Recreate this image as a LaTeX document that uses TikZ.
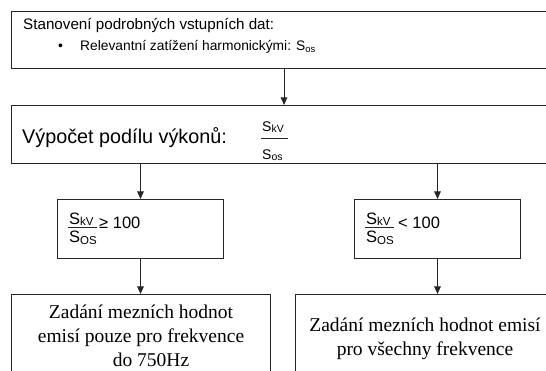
\documentclass[tikz,border=0pt]{standalone}
\usepackage{fontspec}
\setmainfont{Liberation Sans}
\newfontfamily\timesfont{Liberation Serif}
\usetikzlibrary{arrows.meta}
\newcommand\fs[1]{\fontsize{#1}{#1}\selectfont}
% symbol with a lowered subscript: \symsub{main size}{sub size}{drop}{subscript}
\newcommand\symsub[4]{{\fs{#1}S\raisebox{-#3}{\fs{#2}#4}}}

\begin{document}
\begin{tikzpicture}[x=1pt,y=-1pt,
  box/.style={draw=black!85, line width=1pt, inner sep=0pt, anchor=north west},
  arr/.style={draw=black!85, line width=1pt, -{Triangle[width=6.5pt,length=7.5pt]}},
  bar/.style={draw=black!85, line width=0.8pt},
  txt/.style={inner sep=0pt, anchor=base west},
  ctxt/.style={inner sep=0pt, anchor=base, font=\timesfont\fs{19.5}}]
\useasboundingbox (0,0) rectangle (546,371);
\clip (0,0) rectangle (546,371);

% boxes
\node[box, minimum width=545pt, minimum height=57pt] (b1) at (11,11) {};
\node[box, minimum width=545pt, minimum height=58pt] (b2) at (11,105) {};
\node[box, minimum width=166pt, minimum height=59pt] (b3l) at (57,199) {};
\node[box, minimum width=166pt, minimum height=59pt] (b3r) at (354,199) {};
\node[box, minimum width=259pt, minimum height=90pt] (b4l) at (11,294) {};
\node[box, minimum width=284pt, minimum height=90pt] (b4r) at (295,294) {};

% connectors
\draw[arr] (b1.south) -- (b2.north);
\draw[arr] (b2.south -| b3l.north) -- (b3l.north);
\draw[arr] (b2.south -| b3r.north) -- (b3r.north);
\draw[arr] (b3l.south) -- (b3l.south |- b4l.north);
\draw[arr] (b3r.south) -- (b3r.south |- b4r.north);

% input data
\node[txt, font=\fs{15.2}] (t1) at (23,30) {Stanovení podrobných vstupních dat:};
\node[txt, font=\fs{14}] (bul) at (58,51) {•};
\node[txt, font=\fs{13.8}] (t2) at (80,51) {Relevantní zatížení harmonickými: S\raisebox{-2pt}{\fs{9.5}os}};

% power ratio
\node[txt, font=\fs{19.8}] (t3) at (22,144) {Výpočet podílu výkonů:};
\node[txt] (n1) at (262,132) {\symsub{14}{10.5}{0.5pt}{kV}};
\draw[bar] (261,138) -- (288,138);
\node[txt] (d1) at (262,160) {\symsub{14}{10.5}{1pt}{os}};

% left condition
\node[txt] (n2) at (69,225) {\symsub{16.5}{11.5}{0.5pt}{kV}};
\draw[bar] (68,227.5) -- (97,227.5);
\node[txt] (d2) at (69,243) {\symsub{16.5}{11.5}{2pt}{OS}};
\node[txt, font=\fs{16.5}] (c2) at (99,229) {≥ 100};

% right condition
\node[txt] (n3) at (366,225) {\symsub{16.5}{11.5}{0.5pt}{kV}};
\draw[bar] (365,227.5) -- (394,227.5);
\node[txt] (d3) at (366,243) {\symsub{16.5}{11.5}{2pt}{OS}};
\node[txt, font=\fs{16.5}] (c3) at (398,229) {< 100};

% results
\node[ctxt] (r1) at (141,318) {Zadání mezních hodnot};
\node[ctxt] (r2) at (141,342) {emisí pouze pro frekvence};
\node[ctxt] (r3) at (151,366) {do 750Hz};
\node[ctxt] (r4) at (425,331) {Zadání mezních hodnot emisí};
\node[ctxt] (r5) at (425,355) {pro všechny frekvence};
\end{tikzpicture}
\end{document}
